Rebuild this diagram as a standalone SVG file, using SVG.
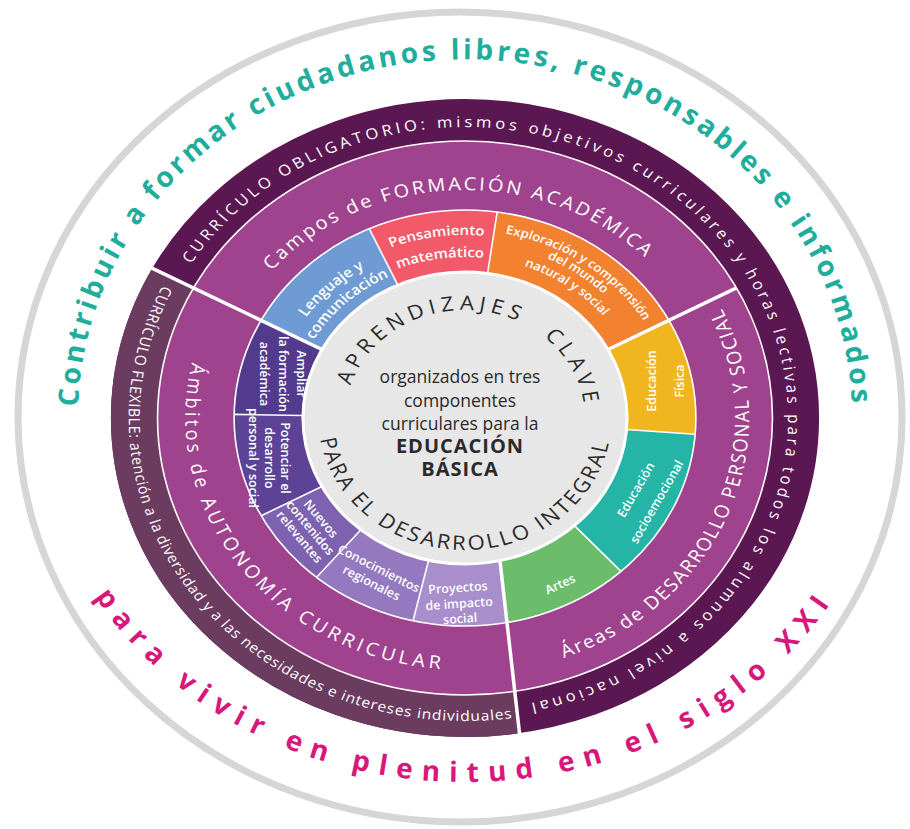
<svg xmlns="http://www.w3.org/2000/svg" width="910" height="829" viewBox="0 0 910 829">
<defs>
<style>
.f{font-family:"Open Sans","DejaVu Sans",sans-serif}
.lbl{font-family:"Open Sans","DejaVu Sans",sans-serif;fill:#fff;font-weight:600;text-anchor:middle;font-size:12.5px}
.ring{font-family:"Open Sans","DejaVu Sans",sans-serif;fill:#fff}
.mid{font-family:"Open Sans","DejaVu Sans",sans-serif;fill:#fff;font-size:18px;text-anchor:middle}
.sep{stroke:#fff;fill:none;vector-effect:non-scaling-stroke;stroke-width:1.6}
.sepT{stroke:#fff;fill:none;vector-effect:non-scaling-stroke;stroke-width:3.5}
.ctr{font-family:"Open Sans","DejaVu Sans",sans-serif;fill:#2a2a2a;text-anchor:middle}
.big{font-family:"Open Sans","DejaVu Sans",sans-serif;font-weight:700;font-size:28px}
.seg{fill:none;stroke-width:62}
.arc{font-family:"Open Sans","DejaVu Sans",sans-serif;fill:#fff;font-weight:600;text-anchor:middle}
</style>
<path id="pTeal" d="M 84 479 A 387 357 0 1 1 846 479"/>
<path id="pPink" d="M 65.6 541.8 A 425 365 0 0 0 864.4 541.8"/>
<path id="pObl" d="M -246.8 -154.2 A 291 291 0 1 1 40.5 288.2"/>
<path id="pFlex" d="M -272.3 -132.8 A 303 303 0 0 0 78.4 292.7"/>
<path id="pCampos" d="M -225.8 -31.7 A 228 228 0 0 1 223.0 -47.4"/>
<path id="pAreas" d="M -31.2 254.1 A 256 256 0 0 0 154.1 -204.4"/>
<path id="pAmb" d="M -182.8 -173.5 A 252 252 0 0 0 112.4 225.5"/>
<path id="pAprTop" d="M -106.4 -18.75 A 108 108 0 0 1 107.9 3.77"/>
<path id="pAprBot" d="M -132 0 A 132 132 0 0 0 131.98 2.30"/>
<path id="pLeng1" d="M -167.4 -51.2 A 175 175 0 0 1 -39.4 -170.5"/>
<path id="pLeng2" d="M -150.1 -45.9 A 157 157 0 0 1 -35.3 -153.0"/>
<path id="pPen1" d="M -112.7 -144.2 A 183 183 0 0 1 68.6 -169.7"/>
<path id="pPen2" d="M -99.1 -126.9 A 161 161 0 0 1 60.3 -149.3"/>
<path id="pExp1" d="M 16.4 -187.3 A 188 188 0 0 1 170.4 -79.4"/>
<path id="pExp2" d="M 15.3 -175.3 A 176 176 0 0 1 159.5 -74.4"/>
<path id="pExp3" d="M 14.0 -160.4 A 161 161 0 0 1 145.9 -68.0"/>
<clipPath id="leftHalf" clipPathUnits="userSpaceOnUse"><polygon points="-420,-430 -27,-430 60.5,430 -420,430"/></clipPath>
</defs>
<rect width="910" height="829" fill="#fff"/>

<g id="frame">
<ellipse cx="460" cy="417" rx="442" ry="405" fill="#fff" stroke="#d6d6d6" stroke-width="7"/>
<text class="big" fill="#20ad9b" letter-spacing="3.6" text-anchor="middle"><textPath href="#pTeal" startOffset="50%">Contribuir a formar ciudadanos libres, responsables e informados</textPath></text>
<text class="big" fill="#d8177b" letter-spacing="9.5" text-anchor="middle"><textPath href="#pPink" startOffset="50%">para vivir en plenitud en el siglo XXI</textPath></text>
</g>

<g transform="translate(465,418) scale(1.11,1)">
<g id="curriculo-obligatorio">
<circle r="298" fill="none" stroke="#5b1752" stroke-width="42"/>
</g>
<g id="curriculo-flexible">
<circle r="298" fill="none" stroke="#6b3c5f" stroke-width="42" pathLength="360" stroke-dasharray="138 222" stroke-dashoffset="-70" clip-path="url(#leftHalf)"/>
</g>
<g id="magenta-ring">
<circle r="242.5" fill="none" stroke="#a0438f" stroke-width="69"/>
</g>
<g id="lenguaje"><circle class="seg" r="177" stroke="#6f9bd5" pathLength="360" stroke-dasharray="37.8 322.2" stroke-dashoffset="152"/></g>
<g id="pensamiento"><circle class="seg" r="177" stroke="#f25a6a" pathLength="360" stroke-dasharray="32.8 327.2" stroke-dashoffset="114.5"/></g>
<g id="exploracion"><circle class="seg" r="177" stroke="#f28130" pathLength="360" stroke-dasharray="54.3 305.7" stroke-dashoffset="82"/></g>
<g id="ed-fisica"><circle class="seg" r="177" stroke="#f1b520" pathLength="360" stroke-dasharray="32.8 327.2" stroke-dashoffset="28"/></g>
<g id="socioemocional"><circle class="seg" r="177" stroke="#25b5a6" pathLength="360" stroke-dasharray="43.3 316.7" stroke-dashoffset="-4.5"/></g>
<g id="artes"><circle class="seg" r="177" stroke="#6bbd6b" pathLength="360" stroke-dasharray="40.5 319.5" stroke-dashoffset="-47.5"/></g>
<g id="proyectos"><circle class="seg" r="177" stroke="#a88ecb" pathLength="360" stroke-dasharray="33.3 326.7" stroke-dashoffset="-70" clip-path="url(#leftHalf)"/></g>
<g id="conocimientos"><circle class="seg" r="177" stroke="#9579c0" pathLength="360" stroke-dasharray="27.3 332.7" stroke-dashoffset="-103"/></g>
<g id="nuevos"><circle class="seg" r="177" stroke="#7d62b0" pathLength="360" stroke-dasharray="22.3 337.7" stroke-dashoffset="-130"/></g>
<g id="potenciar"><circle class="seg" r="177" stroke="#5d4396" pathLength="360" stroke-dasharray="29.3 330.7" stroke-dashoffset="-152"/></g>
<g id="ampliar"><circle class="seg" r="177" stroke="#523a8c" pathLength="360" stroke-dasharray="27.3 332.7" stroke-dashoffset="-181"/></g>
<g id="centro-fondo">
<circle r="146" fill="#e7e7e7" stroke="#fff" stroke-width="3" vector-effect="non-scaling-stroke"/>
</g>

<g id="separators">
<circle class="sep" r="208" stroke-width="2"/>
<circle class="sep" r="277" stroke-width="2"/>
<line class="sepT" x1="-128.9" y1="-68.5" x2="-282.5" y2="-150.2"/>
<line class="sepT" x1="128.9" y1="-68.5" x2="244.6" y2="-130.1"/>
<line class="sep" x1="-60.5" y1="-132.9" x2="-86.3" y2="-189.3"/>
<line class="sep" x1="20.3" y1="-144.6" x2="29.0" y2="-206.0"/>
<line class="sep" x1="145.5" y1="11.5" x2="207.4" y2="16.3"/>
<line class="sep" x1="98.6" y1="107.6" x2="140.5" y2="153.4"/>
<line class="sep" x1="-32.8" y1="142.3" x2="-46.8" y2="202.7"/>
<line class="sep" x1="-93.8" y1="111.8" x2="-133.7" y2="159.3"/>
<line class="sep" x1="-128.9" y1="68.5" x2="-183.6" y2="97.7"/>
<line class="sep" x1="-146.0" y1="-2.5" x2="-208.0" y2="-3.6"/>
</g>

<text class="ring" font-size="15" letter-spacing="3.3"><textPath href="#pObl">CURRÍCULO OBLIGATORIO: mismos objetivos curriculares y horas lectivas para todos los alumnos a nivel nacional</textPath></text>
<text class="ring" font-size="14" letter-spacing="0.8"><textPath href="#pFlex">CURRÍCULO FLEXIBLE: atención a la diversidad y a las necesidades e intereses individuales</textPath></text>
<text class="mid" letter-spacing="2.4"><textPath href="#pCampos" startOffset="50%">Campos de FORMACIÓN ACADÉMICA</textPath></text>
<text class="mid" letter-spacing="1.6"><textPath href="#pAreas" startOffset="50%">Áreas de DESARROLLO PERSONAL Y SOCIAL</textPath></text>
<text class="mid" letter-spacing="3.6"><textPath href="#pAmb" startOffset="50%">Ámbitos de AUTONOMÍA CURRICULAR</textPath></text>

<text class="arc" font-size="14"><textPath href="#pLeng1" startOffset="50%">Lenguaje y</textPath></text>
<text class="arc" font-size="14"><textPath href="#pLeng2" startOffset="50%">comunicación</textPath></text>
<text class="arc" font-size="13.5"><textPath href="#pPen1" startOffset="50%">Pensamiento</textPath></text>
<text class="arc" font-size="13.5"><textPath href="#pPen2" startOffset="50%">matemático</textPath></text>
<text class="arc" font-size="12"><textPath href="#pExp1" startOffset="50%">Exploración y comprensión</textPath></text>
<text class="arc" font-size="12"><textPath href="#pExp2" startOffset="50%">del mundo</textPath></text>
<text class="arc" font-size="12"><textPath href="#pExp3" startOffset="50%">natural y social</textPath></text>

<text class="ctr" font-size="20" letter-spacing="4.6" word-spacing="14" fill="#222"><textPath href="#pAprTop" startOffset="50%">APRENDIZAJES CLAVE</textPath></text>
<text class="ctr" font-size="20" letter-spacing="2.4" fill="#222"><textPath href="#pAprBot" startOffset="50%">PARA EL DESARROLLO INTEGRAL</textPath></text>
</g>

<line class="sepT" x1="500" y1="561" x2="520.5" y2="742"/>

<g id="label-fisica" transform="translate(666,381) rotate(-90)">
<text class="lbl" font-size="12" y="-10">Educación</text>
<text class="lbl" font-size="12" y="18">Física</text>
</g>
<g id="label-socio" transform="translate(646.5,496) rotate(-60)">
<text class="lbl" y="-8">Educación</text>
<text class="lbl" y="16">socioemocional</text>
</g>
<g id="label-artes" transform="translate(560,584) rotate(-25)">
<text class="lbl" y="4.5">Artes</text>
</g>
<g id="label-proyectos" transform="translate(459,603) rotate(-4)">
<text class="lbl" font-size="13" y="-11">Proyectos</text>
<text class="lbl" font-size="13" y="5">de impacto</text>
<text class="lbl" font-size="13" y="20">social</text>
</g>
<g id="label-conocimientos" transform="translate(375,576) rotate(27)">
<text class="lbl" y="-4">Conocimientos</text>
<text class="lbl" y="12">regionales</text>
</g>
<g id="label-nuevos" transform="translate(310,528) rotate(50)">
<text class="lbl" font-size="11.5" y="-10">Nuevos</text>
<text class="lbl" font-size="11.5" y="4">contenidos</text>
<text class="lbl" font-size="11.5" y="18">relevantes</text>
</g>
<g id="label-potenciar" transform="translate(269,458) rotate(90)">
<text class="lbl" font-size="12" y="-12">Potenciar el</text>
<text class="lbl" font-size="12" y="4">desarrollo</text>
<text class="lbl" font-size="12" y="20">personal y social</text>
</g>
<g id="label-ampliar" transform="translate(283,374) rotate(90)">
<text class="lbl" font-size="14" y="-14">Ampliar</text>
<text class="lbl" font-size="12.5" y="4">la formación</text>
<text class="lbl" font-size="12.5" y="23">académica</text>
</g>

<g id="centro">
<text class="ctr" font-size="17.5" x="460" y="383">organizados en tres</text>
<text class="ctr" font-size="17.5" x="460" y="407">componentes</text>
<text class="ctr" font-size="17.5" x="460" y="430">curriculares para la</text>
<text class="ctr" font-size="20" font-weight="700" letter-spacing="1" fill="#111" x="460" y="453">EDUCACIÓN</text>
<text class="ctr" font-size="20" font-weight="700" letter-spacing="1" fill="#111" x="460" y="476">BÁSICA</text>
</g>
</svg>
